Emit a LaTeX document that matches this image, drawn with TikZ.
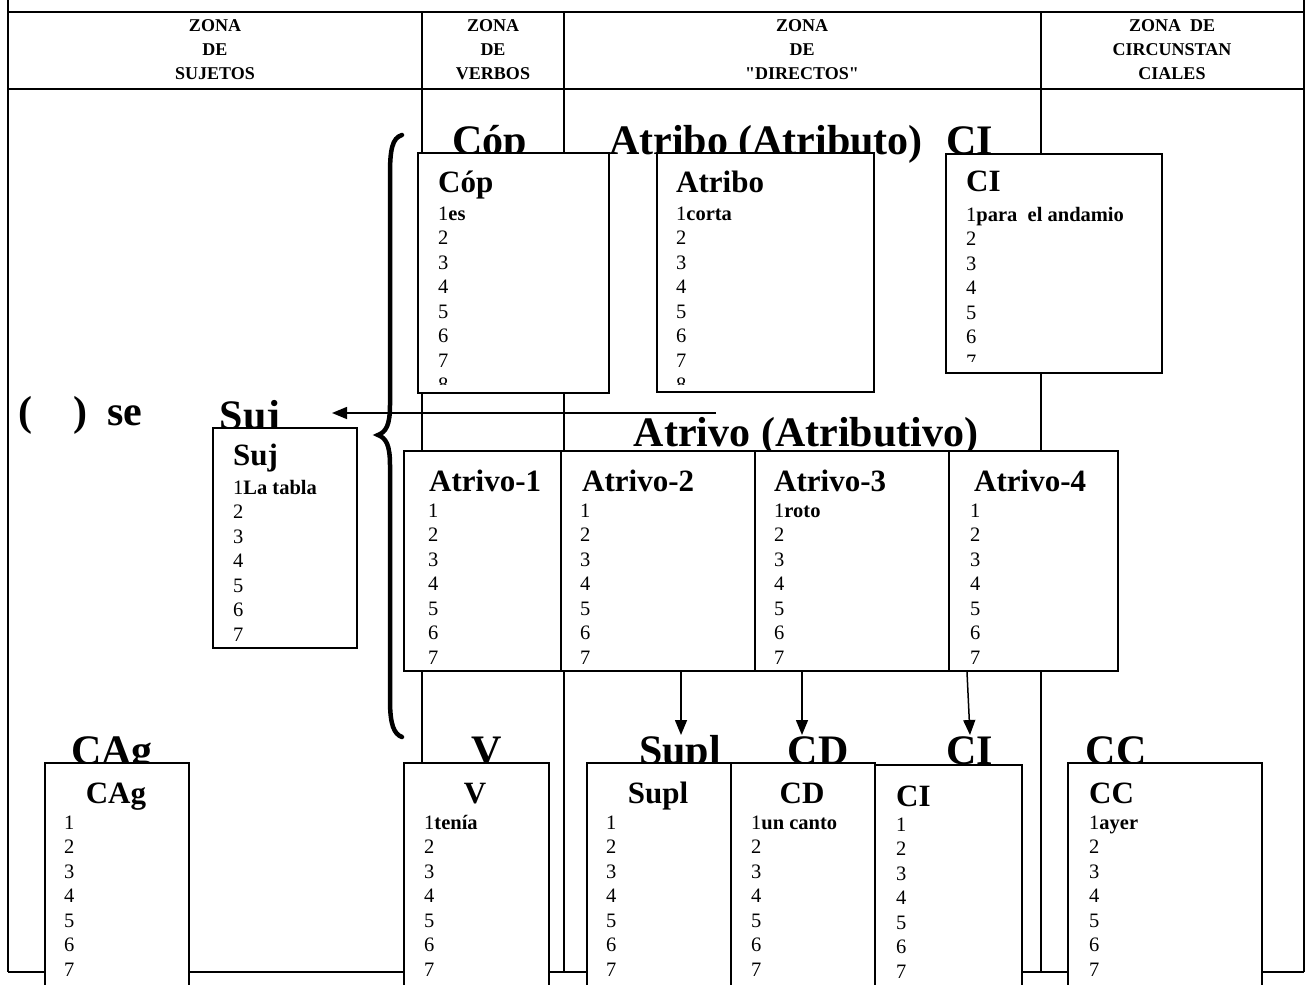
\documentclass[tikz,border=0pt]{standalone}
\usepackage{fontspec}
\setmainfont{Liberation Serif}
\newfontfamily\plainfont{Liberation Serif}
\usetikzlibrary{arrows.meta}
\tikzset{
  bx/.style={draw, line width=2pt, fill=white, inner sep=0pt},
  big/.style={font=\fontsize{42}{42}\selectfont\bfseries, inner sep=0pt},
  ttl/.style={font=\fontsize{31}{31}\selectfont\bfseries, inner sep=0pt},
  num/.style={font=\fontsize{20.5}{24}\selectfont, inner sep=0pt},
  hdr/.style={font=\plainfont\fontsize{18}{24}\selectfont\bfseries, align=center, inner sep=0pt},
  rule/.style={line width=1.6pt},
  hrule/.style={line width=2.4pt},
  arr/.style={line width=1.5pt, -{Triangle[length=15pt,width=12pt]}},
  bracestyle/.style={line width=4.5pt, line cap=round},
}
\newcommand{\mkbox}[5]{\node[bx, anchor=north west, minimum width={#4-#2}, minimum height={#5-#3}] (#1) at (#2,#3) {};}
\newcommand{\numlist}[5]{%
  \node[num, anchor=base west] (#1-1) at (#2,#3) {1\textbf{#4}};
  \foreach \k in {2,...,#5}{\node[num, anchor=base west] (#1-\k) at (#2,{#3+(\k-1)*24.5}) {\k};}
}
\begin{document}
\begin{tikzpicture}[x=1pt,y=-1pt]
\useasboundingbox (0,0) rectangle (1310,985);
\clip (0,0) rectangle (1310,985);
% frame
\draw[rule] (8,0) -- (8,972);
\draw[rule] (1304,0) -- (1304,972);
\draw[hrule] (8,12) -- (1304,12);
\draw[hrule] (8,89) -- (1304,89);
\draw[rule] (422,12) -- (422,972);
\draw[rule] (564,12) -- (564,972);
\draw[rule] (1041,12) -- (1041,972);
\draw[rule] (8,972) -- (1304,972);
% headers
\node[hdr] (h1) at (215,50) {ZONA\\DE\\SUJETOS};
\node[hdr] (h2) at (493,50) {ZONA\\DE\\VERBOS};
\node[hdr] (h3) at (802,50) {ZONA\\DE\\"DIRECTOS"};
\node[hdr] (h4) at (1172,50) {ZONA\ \ DE\\CIRCUNSTAN\\CIALES};
% big labels
\node[big, anchor=base] (copL) at (490,154) {Cóp};
\node[big, anchor=base] (atrL) at (766,154) {Atribo (Atributo)};
\node[big, anchor=base] (ciTL) at (970,154) {CI};
\node[big, anchor=base west] (seL) at (18,425) {(\hspace{41pt})\hspace{20pt}se};
\node[big, anchor=base] (sujL) at (250,429) {Suj};
\node[big, anchor=base] (atvL) at (806,446) {Atrivo (Atributivo)};
\node[big, anchor=base] (cagL) at (112,764) {CAg};
\node[big, anchor=base] (vL) at (487,764) {V};
\node[big, anchor=base] (suplL) at (680,764) {Supl};
\node[big, anchor=base] (cdL) at (818,764) {CD};
\node[big, anchor=base] (ciBL) at (970,764) {CI};
\node[big, anchor=base] (ccL) at (1116,764) {CC};
% brace
\draw[bracestyle] (402,135) .. controls (392,138) and (390,150) .. (390,175) -- (390,405) .. controls (390,425) and (386,432) .. (378,435) .. controls (386,438) and (390,445) .. (390,465) -- (390,700) .. controls (390,725) and (394,734) .. (402,737);
% arrow to Suj
\coordinate (arrS) at (716,413);
\coordinate (arrE) at (332,413);
\draw[arr] (arrS) -- (arrE);
% top boxes
\mkbox{cop}{417}{152}{608}{392}
\node[ttl, anchor=base west] (copT) at (438,192) {Cóp};
\begin{scope}\clip (417,152) rectangle (608,384); \numlist{copN}{438}{220}{es}{8} \end{scope}
\mkbox{atr}{656}{152}{873}{391}
\node[ttl, anchor=base west] (atrT) at (676,192) {Atribo};
\begin{scope}\clip (656,152) rectangle (873,384); \numlist{atrN}{676}{220}{corta}{8} \end{scope}
\mkbox{ciT}{945}{153}{1161}{372}
\node[ttl, anchor=base west] (ciTT) at (966,191) {CI};
\begin{scope}\clip (945,153) rectangle (1161,361); \numlist{ciTN}{966}{221}{para\ \ el andamio}{7} \end{scope}
% Suj box
\mkbox{suj}{212}{427}{356}{647}
\node[ttl, anchor=base west] (sujT) at (233,465) {Suj};
\numlist{sujN}{233}{494}{La tabla}{7}
% atributivo boxes
\mkbox{atv1}{403}{450}{560}{670}
\mkbox{atv2}{560}{450}{754}{670}
\mkbox{atv3}{754}{450}{948}{670}
\mkbox{atv4}{948}{450}{1117}{670}
\node[ttl, anchor=base west] (atv1T) at (429,491) {Atrivo-1};
\node[ttl, anchor=base west] (atv2T) at (582,491) {Atrivo-2};
\node[ttl, anchor=base west] (atv3T) at (774,491) {Atrivo-3};
\node[ttl, anchor=base west] (atv4T) at (974,491) {Atrivo-4};
\numlist{atv1N}{428}{517}{}{7}
\numlist{atv2N}{580}{517}{}{7}
\numlist{atv3N}{774}{517}{roto}{7}
\numlist{atv4N}{970}{517}{}{7}
% arrows down
\coordinate (suplT) at (681,735);
\coordinate (cdT) at (802,735);
\coordinate (ciT2) at (970,735);
\draw[arr] (atv2.south -| suplT) -- (suplT);
\draw[arr] (atv3.south -| cdT) -- (cdT);
\draw[arr] ([xshift=-66.5pt]atv4.south) -- (ciT2);
% bottom boxes
\mkbox{cag}{44}{762}{188}{1000}
\node[ttl, anchor=base] (cagT) at (116,803) {CAg};
\numlist{cagN}{64}{829}{}{7}
\mkbox{v}{403}{762}{548}{1000}
\node[ttl, anchor=base] (vT) at (475,803) {V};
\numlist{vN}{424}{829}{tenía}{7}
\mkbox{supl}{586}{762}{730}{1000}
\node[ttl, anchor=base] (suplTT) at (658,803) {Supl};
\numlist{suplN}{606}{829}{}{7}
\mkbox{cd}{730}{762}{874}{1000}
\node[ttl, anchor=base] (cdTT) at (802,803) {CD};
\numlist{cdN}{751}{829}{un canto}{7}
\mkbox{ciB}{874}{764}{1021}{1000}
\node[ttl, anchor=base west] (ciBT) at (896,806) {CI};
\numlist{ciBN}{896}{831}{}{7}
\mkbox{cc}{1067}{762}{1261}{1000}
\node[ttl, anchor=base west] (ccT) at (1089,803) {CC};
\numlist{ccN}{1089}{829}{ayer}{7}
\end{tikzpicture}
\end{document}
